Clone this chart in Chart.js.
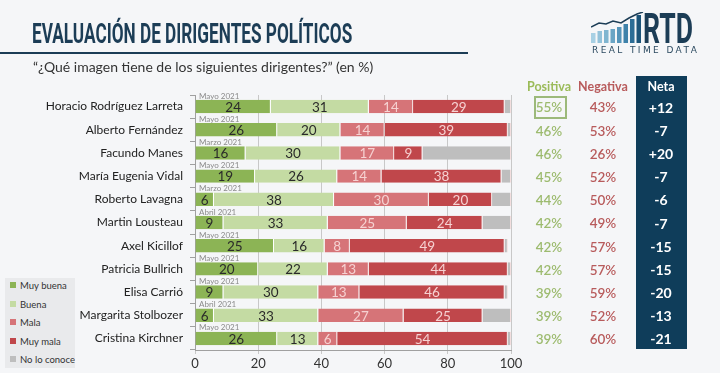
<!DOCTYPE html>
<html>
<head>
<meta charset="utf-8">
<script src="https://cdn.jsdelivr.net/npm/chart.js@4"></script>
<style>
    body { margin: 0; background: #f5f6f8; }
    #wrap { position: relative; width: 720px; height: 373px; overflow: hidden; font-family: Lato, sans-serif; }
    #chartBox { position: absolute; left: 0; top: 0; width: 720px; height: 373px; }
    .fit { position: absolute; white-space: nowrap; transform-origin: 0 0; }
    #title { left: 32px; top: 17px; font: 700 28px Roboto, sans-serif; color: #1c3d56; }
    #rule { position: absolute; left: 0; top: 52px; width: 468px; height: 2px; background: #1c3d56; }
    #subtitle { position: absolute; left: 33px; top: 58px; font: 14px Lato, sans-serif; color: #333; }
    #rtd { left: 643px; top: 4px; font: 700 42px Roboto, sans-serif; color: #1c3d56; }
    #rtdSub { position: absolute; left: 592px; top: 45px; font: 9px "DejaVu Sans", sans-serif; letter-spacing: 2.4px; color: #2c4a60; }
    #logo { position: absolute; left: 591px; top: 12px; }
    #legend { position: absolute; left: 5px; top: 278px; width: 70px; height: 90px; background: #e9eaec; }
    .item { position: absolute; left: 5px; font: 9.5px Lato, sans-serif; color: #333; white-space: nowrap; }
    .item i { display: inline-block; width: 6px; height: 6px; margin-right: 4px; vertical-align: 1px; }
</style>
</head>
<body>
<div id="wrap">
    <div id="chartBox"><canvas id="chart"></canvas></div>
    <div id="title" class="fit">EVALUACIÓN DE DIRIGENTES POLÍTICOS</div>
    <div id="rule"></div>
    <div id="subtitle">“¿Qué imagen tiene de los siguientes dirigentes?” (en %)</div>
    <svg id="logo" width="54" height="32" viewBox="0 0 54 32">
        <rect x="0" y="21" width="4.5" height="10" fill="#a7d0e4"/>
        <rect x="6.5" y="19" width="4.5" height="12" fill="#93c2da"/>
        <rect x="13" y="18" width="4.5" height="13" fill="#80b5d0"/>
        <rect x="19.5" y="17" width="4.5" height="14" fill="#6aa5c5"/>
        <rect x="26" y="15" width="4.5" height="16" fill="#5595ba"/>
        <rect x="32.5" y="12" width="4.5" height="19" fill="#3f82aa"/>
        <rect x="39" y="7" width="4.5" height="24" fill="#2c6d96"/>
        <rect x="45.5" y="3" width="4.5" height="28" fill="#1c5479"/>
        <polyline points="0,15 8,11 15,12 22,9 30,11 38,6 46,2 52,0" fill="none" stroke="#1c3d56" stroke-width="1.5"/>
    </svg>
    <div id="rtd" class="fit">RTD</div>
    <div id="rtdSub">REAL TIME DATA</div>
    <div id="legend"></div>
</div>
<script>
const categories = ['Horacio Rodríguez Larreta', 'Alberto Fernández', 'Facundo Manes', 'María Eugenia Vidal',
    'Roberto Lavagna', 'Martin Lousteau', 'Axel Kicillof', 'Patricia Bullrich', 'Elisa Carrió',
    'Margarita Stolbozer', 'Cristina Kirchner'];
const fechas = ['Mayo 2021', 'Mayo 2021', 'Marzo 2021', 'Mayo 2021', 'Marzo 2021', 'Abril 2021',
    'Mayo 2021', 'Mayo 2021', 'Mayo 2021', 'Abril 2021', 'Mayo 2021'];
const muyBuena = [24, 26, 16, 19, 6, 9, 25, 20, 9, 6, 26];
const buena = [31, 20, 30, 26, 38, 33, 16, 22, 30, 33, 13];
const mala = [14, 14, 17, 14, 30, 25, 8, 13, 13, 27, 6];
const muyMala = [29, 39, 9, 38, 20, 24, 49, 44, 46, 25, 54];
const noConoce = [2, 1, 28, 3, 6, 9, 1, 1, 1, 9, 1];
const positiva = ['55%', '46%', '46%', '45%', '44%', '42%', '42%', '42%', '39%', '39%', '39%'];
const negativa = ['43%', '53%', '26%', '52%', '50%', '49%', '57%', '57%', '59%', '52%', '60%'];
const neta = ['+12', '-7', '+20', '-7', '-6', '-7', '-15', '-15', '-20', '-13', '-21'];
const xTicks = [0, 20, 40, 60, 80, 100];

const colores = ['#8cb455', '#c4dba3', '#d67478', '#c0474b', '#bebebe'];
const etiquetas = ['Muy buena', 'Buena', 'Mala', 'Muy mala', 'No lo conoce'];
const series = [muyBuena, buena, mala, muyMala, noConoce];

// ajustar textos condensados al ancho del original
function fitWidth(id, w) {
    const el = document.getElementById(id);
    el.style.transform = 'scaleX(' + (w / el.offsetWidth) + ')';
}
fitWidth('title', 320);
fitWidth('rtd', 50);

// leyenda
const legend = document.getElementById('legend');
etiquetas.forEach((t, i) => {
    const d = document.createElement('div');
    d.className = 'item';
    d.style.top = (2 + i * 18.5) + 'px';
    d.innerHTML = '<i style="background:' + colores[i] + '"></i>' + t;
    legend.appendChild(d);
});

const textosPlugin = {
    id: 'textos',
    beforeDraw(chart) {
        const ctx = chart.ctx;
        ctx.save();
        ctx.fillStyle = '#0f3d5a';
        ctx.fillRect(636, 76, 51, 273);
        ctx.restore();
    },
    afterDatasetsDraw(chart) {
        const ctx = chart.ctx;
        const yScale = chart.scales.y;
        ctx.save();
        ctx.textAlign = 'center';
        ctx.textBaseline = 'middle';
        ctx.font = '13.5px Lato';
        for (let d = 0; d < 4; d++) {
            const meta = chart.getDatasetMeta(d);
            meta.data.forEach((bar, i) => {
                ctx.fillStyle = d < 2 ? '#2a2a2a' : '#f6d2d2';
                ctx.fillText(series[d][i], (bar.x + bar.base) / 2, bar.y + 1);
            });
        }
        // fechas
        ctx.textAlign = 'left';
        ctx.font = '8px Lato';
        ctx.fillStyle = '#8a8a8a';
        fechas.forEach((f, i) => {
            ctx.fillText(f, chart.chartArea.left + 4, yScale.getPixelForValue(i) - 10.5);
        });
        // columnas derechas
        ctx.textAlign = 'center';
        ctx.font = 'bold 12.5px Lato';
        ctx.fillStyle = '#9bbb59';
        ctx.fillText('Positiva', 549, 87);
        ctx.fillStyle = '#b85b5c';
        ctx.fillText('Negativa', 603, 87);
        ctx.fillStyle = '#ffffff';
        ctx.fillText('Neta', 661, 87);
        ctx.font = '600 13.5px Lato';
        categories.forEach((c, i) => {
            const y = yScale.getPixelForValue(i) + 1.5;
            ctx.fillStyle = '#9dbb6f';
            ctx.fillText(positiva[i], 549, y);
            ctx.fillStyle = '#b85b5c';
            ctx.fillText(negativa[i], 603, y);
        });
        ctx.font = 'bold 14px Lato';
        ctx.fillStyle = '#ffffff';
        neta.forEach((n, i) => {
            ctx.fillText(n, 661, yScale.getPixelForValue(i) + 1.5);
        });
        // recuadro del valor mas alto
        ctx.strokeStyle = '#9cb97a';
        ctx.lineWidth = 2;
        ctx.strokeRect(535, 97, 31, 21);
        ctx.restore();
    }
};

new Chart(document.getElementById('chart'), {
    type: 'bar',
    data: {
        labels: categories,
        datasets: series.map((s, i) => ({
            label: etiquetas[i],
            data: s,
            backgroundColor: colores[i],
            borderColor: i >= 2 ? '#f3dede' : '#ffffff',
            borderWidth: { left: 0, right: 1, top: 0, bottom: 0 },
            borderSkipped: false,
            categoryPercentage: 1,
            barPercentage: 0.58
        }))
    },
    plugins: [textosPlugin],
    options: {
        indexAxis: 'y',
        responsive: true,
        maintainAspectRatio: false,
        animation: false,
        layout: { padding: { left: 0, right: 209, top: 95, bottom: 0 } },
        plugins: { legend: { display: false }, tooltip: { enabled: false } },
        scales: {
            x: {
                stacked: true,
                min: 0,
                max: 100,
                afterFit: s => { s.height = 23; },
                afterBuildTicks: s => { s.ticks = xTicks.map(v => ({ value: v })); },
                grid: { color: '#c8c8c8', tickLength: 4 },
                border: { color: '#a0a0a0' },
                ticks: { padding: 2, color: '#333', font: { family: 'Lato', size: 13 } }
            },
            y: {
                stacked: true,
                afterFit: s => { s.width = 195; },
                grid: { drawOnChartArea: false, tickLength: 5, color: '#a0a0a0' },
                border: { color: '#a0a0a0' },
                ticks: { padding: 7, color: '#222', font: { family: 'Lato', size: 12 } }
            }
        }
    }
});
</script>
</body>
</html>
